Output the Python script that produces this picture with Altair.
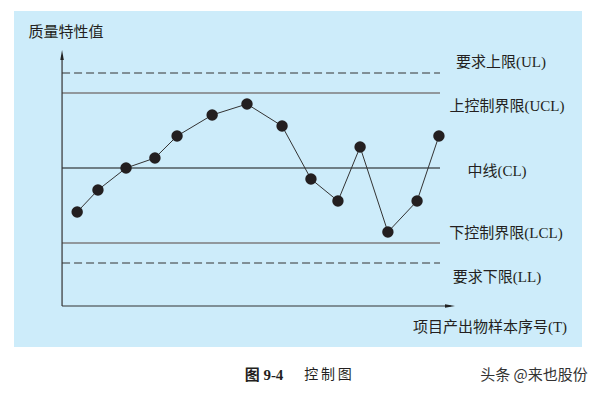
import altair as alt
import pandas as pd

# Sample positions (order axis, arbitrary units) and quality values
sample_pos = [0.56, 1.33, 2.37, 3.44, 4.26, 5.56, 6.85, 8.15, 9.22, 10.22, 11.04, 12.07, 13.15, 13.96]
quality = [32.4, 41.2, 50.0, 54.0, 62.8, 71.2, 75.6, 66.8, 45.6, 36.8, 58.4, 24.4, 36.8, 62.8]

limit_names = ["UL", "UCL", "CL", "LCL", "LL"]
limit_vals = [88, 80, 50, 20, 12]
limit_labels = ["要求上限(UL)", "上控制界限(UCL)", "中线(CL)", "下控制界限(LCL)", "要求下限(LL)"]
limit_kind = ["dash", "gray", "solid", "gray", "dash"]

x_title = "项目产出物样本序号(T)"
y_title = "质量特性值"
caption_num = "图 9-4"
caption_txt = "控\u2009制\u2009图"
watermark = "头条 @来也股份"

W, H = 568, 336
FONT = "Liberation Serif, Noto Sans CJK SC"
INK = "#231f20"

xs = alt.Scale(domain=[-1.78, 19.26], nice=False, zero=False)
ys = alt.Scale(domain=[-21.6, 112.8], nice=False, zero=False)

pts = pd.DataFrame({"t": sample_pos, "q": quality})
lim = pd.DataFrame({"name": limit_names, "v": limit_vals, "label": limit_labels,
                    "kind": limit_kind, "x0": 0.0, "x1": 14.0})

base_pts = alt.Chart(pts)
line = base_pts.mark_line(color="#333333", strokeWidth=1).encode(
    x=alt.X("t:Q", scale=xs, axis=None), y=alt.Y("q:Q", scale=ys, axis=None))
dots = base_pts.mark_circle(size=130, color=INK, opacity=1).encode(
    x=alt.X("t:Q", scale=xs, axis=None), y=alt.Y("q:Q", scale=ys, axis=None))

def rules(kind, **kw):
    return alt.Chart(lim).transform_filter(alt.datum.kind == kind).mark_rule(**kw).encode(
        x=alt.X("x0:Q", scale=xs, axis=None), x2="x1:Q",
        y=alt.Y("v:Q", scale=ys, axis=None))

r_dash = rules("dash", color="#333333", strokeWidth=1, strokeDash=[8, 4])
r_gray = rules("gray", color="#7d7d7d", strokeWidth=1.4)
r_cl = rules("solid", color="#111111", strokeWidth=1.1)

# axes as lines from the origin
axes_df = pd.DataFrame({"x0": [0.0, 0.0], "x1": [0.0, 14.4], "y0": [-5.2, -5.2], "y1": [95.0, -5.2]})
axes = alt.Chart(axes_df).mark_rule(color="#333333", strokeWidth=1.2).encode(
    x=alt.X("x0:Q", scale=xs, axis=None), x2="x1:Q",
    y=alt.Y("y0:Q", scale=ys, axis=None), y2="y1:Q")

up_arrow = alt.Chart(pd.DataFrame({"x": [0.0], "y": [95.2]})).mark_point(
    shape="M0,-1L0.35,1L-0.35,1Z", filled=True, size=100, color="#222222", opacity=1).encode(
    x=alt.X("x:Q", scale=xs, axis=None), y=alt.Y("y:Q", scale=ys, axis=None))
right_arrow = alt.Chart(pd.DataFrame({"x": [14.37], "y": [-5.2]})).mark_point(
    shape="M1,0L-1,0.35L-1,-0.35Z", filled=True, size=100, color="#222222", opacity=1).encode(
    x=alt.X("x:Q", scale=xs, axis=None), y=alt.Y("y:Q", scale=ys, axis=None))

# limit labels (placed beside the line ends)
lab_x = [487, 493, 483, 492, 483]
lab_y = [51, 95, 160, 222, 266]
labels = []
for i in range(len(limit_labels)):
    labels.append(alt.Chart(pd.DataFrame({"s": [limit_labels[i]]})).mark_text(
        font=FONT, fontSize=15, color=INK, align="center", baseline="middle").encode(
        text="s:N", x=alt.value(lab_x[i]), y=alt.value(lab_y[i])))

def txt(s, x, y, **kw):
    opts = dict(font=FONT, fontSize=15, color=INK, align="center", baseline="middle")
    opts.update(kw)
    return alt.Chart(pd.DataFrame({"s": [s]})).mark_text(**opts).encode(
        text="s:N", x=alt.value(x), y=alt.value(y))

t_x = txt(x_title, 476, 316)
t_y = txt(y_title, 52, 21)
cap1 = txt(caption_num, 250, 364, fontWeight="bold", fontSize=15)
cap2 = txt(caption_txt, 314, 364, fontSize=14)
wm = txt(watermark, 520, 364, font="Noto Sans CJK SC", fontSize=15, color="#333333")

chart = alt.layer(r_dash, r_gray, r_cl, axes, up_arrow, right_arrow, line, dots,
                  *labels, t_x, t_y, cap1, cap2, wm).properties(
    width=W, height=H,
    padding={"left": 6, "top": 3, "right": 10, "bottom": 41},
    autosize=alt.AutoSizeParams(type="none"),
    background="white",
).configure_view(fill="#cdecfa", stroke=None)

chart.save("out.html", embed_options={"renderer": "svg", "actions": False})
